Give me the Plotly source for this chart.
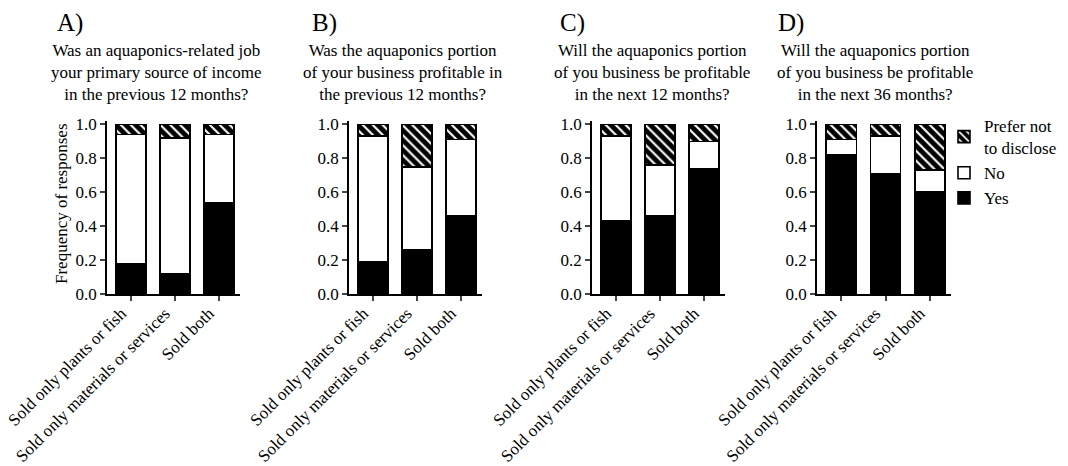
import plotly.graph_objects as go

W, H = 1068, 466

categories = ["Sold only plants or fish", "Sold only materials or services", "Sold both"]
panel_letters = ["A)", "B)", "C)", "D)"]
panel_questions = [
    "Was an aquaponics-related job<br>your primary source of income<br>in the previous 12 months?",
    "Was the aquaponics portion<br>of your business profitable in<br>the previous 12 months?",
    "Will the aquaponics portion<br>of you business be profitable<br>in the next 12 months?",
    "Will the aquaponics portion<br>of you business be profitable<br>in the next 36 months?",
]

yes_A = [0.18, 0.12, 0.54]
no_A = [0.76, 0.80, 0.40]
prefer_A = [0.06, 0.08, 0.06]

yes_B = [0.19, 0.26, 0.46]
no_B = [0.74, 0.49, 0.45]
prefer_B = [0.07, 0.25, 0.09]

yes_C = [0.43, 0.46, 0.74]
no_C = [0.50, 0.30, 0.16]
prefer_C = [0.07, 0.24, 0.10]

yes_D = [0.82, 0.71, 0.60]
no_D = [0.09, 0.22, 0.13]
prefer_D = [0.09, 0.07, 0.27]

y_ticks = [0.0, 0.2, 0.4, 0.6, 0.8, 1.0]

panels = [(yes_A, no_A, prefer_A), (yes_B, no_B, prefer_B),
          (yes_C, no_C, prefer_C), (yes_D, no_D, prefer_D)]

# layout geometry (pixels)
x_domains_px = [(107, 240), (349, 482), (592, 725), (817, 951)]
y_bottom_px, y_top_px = 294, 121
letter_x_px = [55, 310, 558, 776]
question_x_px = [156, 403, 652, 875]

FONT = "'Liberation Serif', 'Times New Roman', 'DejaVu Serif', serif"
fig = go.Figure()

xs = list(range(len(categories)))
for i, (yes, no, pref) in enumerate(panels):
    ax = "" if i == 0 else str(i + 1)
    common = dict(xaxis="x" + ax, yaxis="y" + ax, width=0.68,
                  marker_line=dict(color="black", width=1.6))
    fig.add_trace(go.Bar(x=xs, y=yes, name="Yes", legendgroup="yes",
                         showlegend=(i == 0), marker_color="black", **common))
    fig.add_trace(go.Bar(x=xs, y=no, name="No", legendgroup="no",
                         showlegend=(i == 0), marker_color="white", **common))
    fig.add_trace(go.Bar(x=xs, y=pref, name="Prefer not<br>to disclose",
                         legendgroup="pref", showlegend=(i == 0),
                         marker=dict(color="black",
                                     line=dict(color="black", width=1.6),
                                     pattern=dict(shape="\\", fgcolor="white",
                                                  bgcolor="black", size=7,
                                                  solidity=0.3, fillmode="replace")),
                         xaxis="x" + ax, yaxis="y" + ax, width=0.68))

layout = dict(
    width=W, height=H, barmode="stack",
    margin=dict(l=0, r=0, t=0, b=0),
    paper_bgcolor="white", plot_bgcolor="white",
    font=dict(family=FONT, size=17, color="black"),
    legend=dict(x=944 / W, y=1 - 108 / H, xanchor="left", yanchor="top",
                traceorder="reversed", font=dict(family=FONT, size=17),
                bgcolor="rgba(0,0,0,0)", itemclick=False),
    annotations=[],
)

yd = [1 - y_bottom_px / H, 1 - y_top_px / H]
for i in range(4):
    ax = "" if i == 0 else str(i + 1)
    x0, x1 = x_domains_px[i]
    layout["xaxis" + ax] = dict(
        domain=[x0 / W, x1 / W], range=[-0.55, 2.48],
        tickmode="array", tickvals=xs, ticktext=categories,
        tickangle=-45, ticks="outside", ticklen=5, tickwidth=1.5,
        ticklabelstandoff=-4, ticklabelshift=-10,
        showline=True, linecolor="black", linewidth=1.6,
        showgrid=False, zeroline=False, automargin=False,
        anchor="y" + ax, fixedrange=True,
        tickfont=dict(family=FONT, size=17),
    )
    layout["yaxis" + ax] = dict(
        domain=yd, range=[0, 1.02],
        tickmode="array", tickvals=y_ticks, tickformat=".1f",
        ticks="outside", ticklen=5, tickwidth=1.5,
        showline=True, linecolor="black", linewidth=1.6,
        showgrid=False, zeroline=False, automargin=False,
        anchor="x" + ax, fixedrange=True,
        tickfont=dict(family=FONT, size=17),
    )
    layout["annotations"].append(dict(
        text=panel_letters[i], xref="paper", yref="paper",
        x=letter_x_px[i] / W, y=1 - 23 / H, xanchor="left", yanchor="middle",
        showarrow=False, font=dict(family=FONT, size=25)))
    layout["annotations"].append(dict(
        text=panel_questions[i], xref="paper", yref="paper",
        x=question_x_px[i] / W, y=1 - 73 / H, xanchor="center", yanchor="middle",
        align="center", showarrow=False, font=dict(family=FONT, size=17)))

layout["annotations"].append(dict(
    text="Frequency of responses", xref="paper", yref="paper",
    x=62 / W, y=1 - 204 / H, xanchor="center", yanchor="middle",
    textangle=-90, showarrow=False, font=dict(family=FONT, size=17)))

fig.update_layout(**layout)
fig.write_html("out.html")
